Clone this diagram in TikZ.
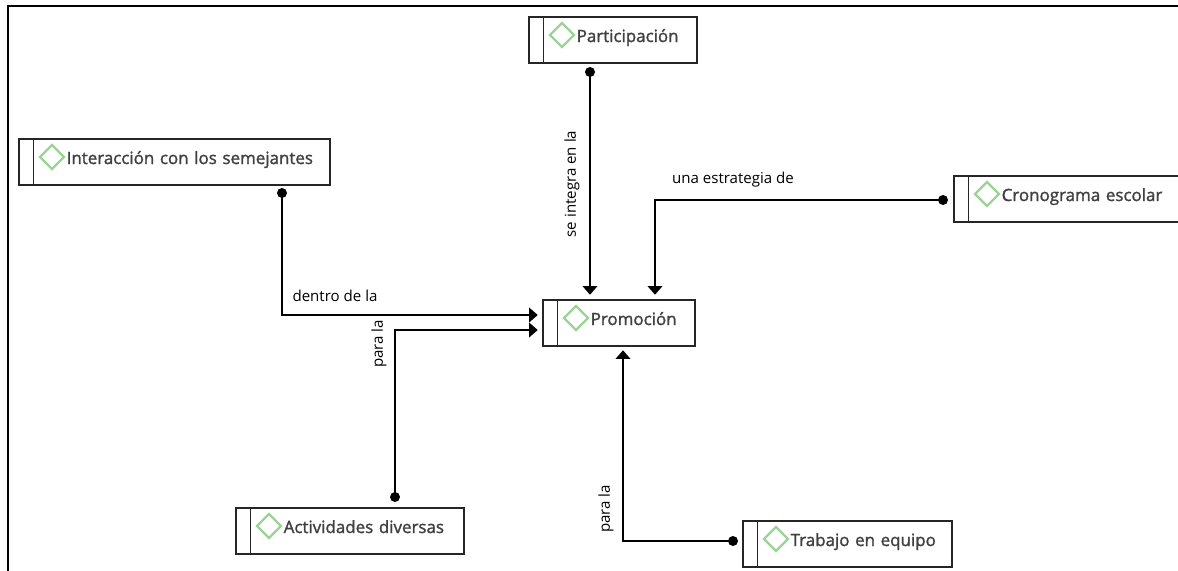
\documentclass[tikz,border=0pt]{standalone}
\usepackage{fontspec}
\setmainfont{Open Sans}
\newfontfamily\boxfont[FakeBold=1.5]{Open Sans}
\usetikzlibrary{arrows.meta}
\definecolor{boxtext}{HTML}{404040}
\definecolor{boxgreen}{HTML}{9BD296}
\tikzstyle{line} = [draw, line width=1.2pt, -{Triangle[length=6.5pt,width=11pt]}, shorten >=3.2pt]
\tikzstyle{pin} = [circle, fill=black, inner sep=0pt, minimum size=7.5pt]
\tikzstyle{rel} = [font=\fontsize{11.3}{13}\selectfont, inner sep=0pt]
\tikzstyle{concept} = [rectangle, draw=black!85, line width=1.5pt, anchor=north west,
  minimum height=34.5pt, inner xsep=0pt, inner ysep=0pt, align=left,
  text=boxtext, text height=9pt, text depth=6pt, font=\boxfont\fontsize{12.7}{15}\selectfont,
  execute at begin node={\hspace*{36pt}},
  path picture={
    \draw[black!85, line width=1.3pt] ([xshift=11pt]path picture bounding box.north west)
      -- ([xshift=11pt]path picture bounding box.south west);
    \draw[boxgreen, line width=1.7pt] ([xshift=16pt,yshift=-13.5pt]path picture bounding box.north west)
      -- ++(9pt,9pt) -- ++(9pt,-9pt) -- ++(-9pt,-9pt) -- cycle;
  }]
\begin{document}
\begin{tikzpicture}[x=0.75pt, y=-0.75pt]
  \clip (0,0) rectangle (1178,571);

  % marco
  \draw[line width=1.4pt, black] (8,571) -- (8,6) -- (1178,6);

  \node [concept, text width=233.25pt, minimum width=233.25pt] (interaccion) at (17.7,138) {Interacción con los semejantes};
  \node [concept, text width=126pt, minimum width=126pt] (participacion) at (527.7,16) {Participación};
  \node [concept, text width=114pt, minimum width=114pt] (promocion) at (541.7,299) {Promoción};
  \node [concept, text width=174pt, minimum width=174pt] (cronograma) at (952.7,175) {Cronograma escolar};
  \node [concept, text width=171pt, minimum width=171pt] (actividades) at (234.7,507) {Actividades diversas};
  \node [concept, text width=156.75pt, minimum width=156.75pt] (trabajo) at (741.7,520) {Trabajo en equipo};

  \node [pin] (pinInteraccion) at (282,193) {};
  \node [pin] (pinParticipacion) at (590,72) {};
  \node [pin] (pinCronograma) at (943,200) {};
  \node [pin] (pinActividades) at (395,497) {};
  \node [pin] (pinTrabajo) at (733,541) {};

  \coordinate (inA) at (542,315);
  \coordinate (inB) at (542,330);
  \coordinate (inC) at (655,299);
  \coordinate (inD) at (623,346);

  \path [line] (pinInteraccion.center) |- (inA);
  \path [line] (pinActividades.center) |- (inB);
  \path [line] (pinParticipacion.center) -- (pinParticipacion |- promocion.north);
  \path [line] (pinCronograma.center) -| (inC);
  \path [line] (pinTrabajo.center) -| (inD);

  \node [rel] (lblDentro) at (335,296) {dentro de la};
  \node [rel] (lblEstrategia) at (733,180) {una estrategia de};
  \node [rel, rotate=90] (lblIntegra) at (572,184) {se integra en la};
  \node [rel, rotate=90] (lblParaA) at (379,344) {para la};
  \node [rel, rotate=90] (lblParaB) at (606,509) {para la};
\end{tikzpicture}
\end{document}
